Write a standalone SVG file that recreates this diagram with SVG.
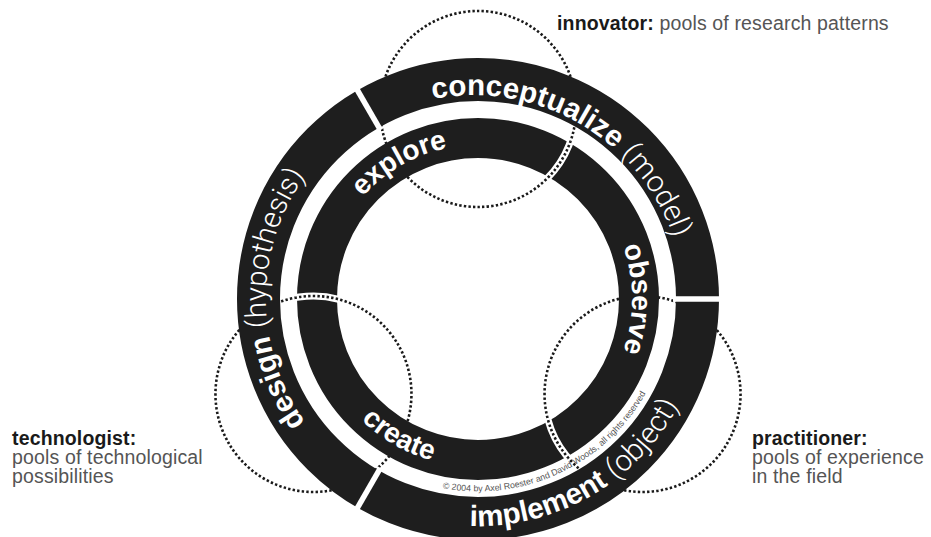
<svg xmlns="http://www.w3.org/2000/svg" width="931" height="537" viewBox="0 0 931 537">
  <defs>
    <style>
      .ring { fill: none; stroke: #1e1e1e; }
      .pool { fill: none; stroke: #1a1a1a; stroke-width: 2.6; stroke-dasharray: 2.4 2.2; }
      .pool-gap { fill: none; stroke: #fff; stroke-width: 7; }
      .cut { stroke: #fff; stroke-width: 5.5; }
      .rt { font-family: "Liberation Sans", Arial, sans-serif; font-weight: bold; fill: #fff; }
      .outer { font-size: 29.5px; }
      .inner { font-size: 28px; }
      .thin { font-family: Roboto, "Open Sans", "Liberation Sans", sans-serif; font-weight: 300; }
      .label { font-family: "Liberation Sans", Arial, sans-serif; font-size: 19.5px; fill: #555; letter-spacing: 0.15px; }
      .role { font-weight: bold; fill: #1a1a1a; }
      .copy { font-family: "Liberation Sans", Arial, sans-serif; font-size: 8.8px; fill: #555; }
    </style>
    <!-- annular sector around the -60deg crossing of a pool with the inner ring -->
    <clipPath id="gapClip">
      <path d="M68.55,-169.68 A183,183 0 0 1 112.67,-144.20 L85.58,-109.53 A139,139 0 0 0 52.07,-128.88 Z"/>
    </clipPath>
    <!-- text baselines, all centred on (478,299) -->
    <path id="arcConceptualize" d="M305.2,178.0 A212,212 0 0 1 669.2,388.2"/>
    <path id="arcDesign" d="M459.5,510.2 A212,212 0 0 1 459.5,87.8"/>
    <path id="arcImplement" d="M292.0,429.2 A227,227 0 0 0 683.7,203.1"/>
    <path id="arcExplore" d="M333.3,351.7 A154,154 0 0 1 596.0,200.0"/>
    <path id="arcObserve" d="M504.7,147.3 A154,154 0 0 1 504.7,450.7"/>
    <path id="arcCreate" d="M320.1,241.5 A168,168 0 0 0 606.7,407.0"/>
    <path id="arcCopy" d="M303.1,380.6 A193,193 0 0 0 652.9,217.4"/>
  </defs>

  <rect width="931" height="537" fill="#fff"/>

  <!-- dotted pools, drawn beneath the rings -->
  <g id="pools" transform="translate(478,299)">
    <g id="pool-innovator"><circle class="pool" cx="0" cy="-190" r="98"/></g>
    <g id="pool-practitioner" transform="rotate(120)"><circle class="pool" cx="0" cy="-190" r="98"/></g>
    <g id="pool-technologist" transform="rotate(240)"><circle class="pool" cx="0" cy="-190" r="98"/></g>
  </g>

  <!-- outer ring: conceptualize / implement / design -->
  <g id="outer-ring" transform="translate(478,299)">
    <circle class="ring" r="219.5" stroke-width="43"/>
    <line class="cut" x1="-97.5" y1="-168.9" x2="-123" y2="-213"/>
    <line class="cut" x1="-97.5" y1="-168.9" x2="-123" y2="-213" transform="rotate(120)"/>
    <line class="cut" x1="-97.5" y1="-168.9" x2="-123" y2="-213" transform="rotate(240)"/>
  </g>

  <!-- inner ring: explore / observe / create -->
  <g id="inner-ring" transform="translate(478,299)">
    <circle class="ring" r="161" stroke-width="40"/>
  </g>

  <!-- where each pool cuts through the inner ring -->
  <g id="connectors">
    <g transform="translate(478,299)" clip-path="url(#gapClip)">
      <circle class="pool-gap" cx="0" cy="-190" r="98"/>
      <circle class="pool" cx="0" cy="-190" r="98"/>
    </g>
    <g transform="translate(478,299) rotate(120)" clip-path="url(#gapClip)">
      <circle class="pool-gap" cx="0" cy="-190" r="98"/>
      <circle class="pool" cx="0" cy="-190" r="98"/>
    </g>
    <g transform="translate(478,299) rotate(240)" clip-path="url(#gapClip)">
      <circle class="pool-gap" cx="0" cy="-190" r="98"/>
      <circle class="pool" cx="0" cy="-190" r="98"/>
    </g>
  </g>

  <!-- ring labels -->
  <g id="stage-conceptualize">
    <text class="rt outer"><textPath href="#arcConceptualize" startOffset="50%" text-anchor="middle">conceptualize <tspan class="thin">(model)</tspan></textPath></text>
  </g>
  <g id="stage-design">
    <text class="rt outer"><textPath href="#arcDesign" startOffset="50%" text-anchor="middle">design <tspan class="thin">(hypothesis)</tspan></textPath></text>
  </g>
  <g id="stage-implement">
    <text class="rt outer"><textPath href="#arcImplement" startOffset="50%" text-anchor="middle">implement <tspan class="thin">(object)</tspan></textPath></text>
  </g>
  <g id="stage-explore">
    <text class="rt inner"><textPath href="#arcExplore" startOffset="50%" text-anchor="middle">explore</textPath></text>
  </g>
  <g id="stage-observe">
    <text class="rt inner"><textPath href="#arcObserve" startOffset="50%" text-anchor="middle">observe</textPath></text>
  </g>
  <g id="stage-create">
    <text class="rt inner"><textPath href="#arcCreate" startOffset="50%" text-anchor="middle">create</textPath></text>
  </g>
  <g id="copyright">
    <text class="copy"><textPath href="#arcCopy" startOffset="50%" text-anchor="middle">© 2004 by Axel Roester and David Woods, all rights reserved</textPath></text>
  </g>

  <!-- pool captions -->
  <g id="label-innovator">
    <text class="label" x="557" y="30"><tspan class="role">innovator:</tspan> pools of research patterns</text>
  </g>
  <g id="label-technologist">
    <text class="label" x="12" y="445"><tspan class="role">technologist:</tspan></text>
    <text class="label" x="12" y="464">pools of technological</text>
    <text class="label" x="12" y="483">possibilities</text>
  </g>
  <g id="label-practitioner">
    <text class="label" x="752" y="445"><tspan class="role">practitioner:</tspan></text>
    <text class="label" x="752" y="464">pools of experience</text>
    <text class="label" x="752" y="483">in the field</text>
  </g>
</svg>
